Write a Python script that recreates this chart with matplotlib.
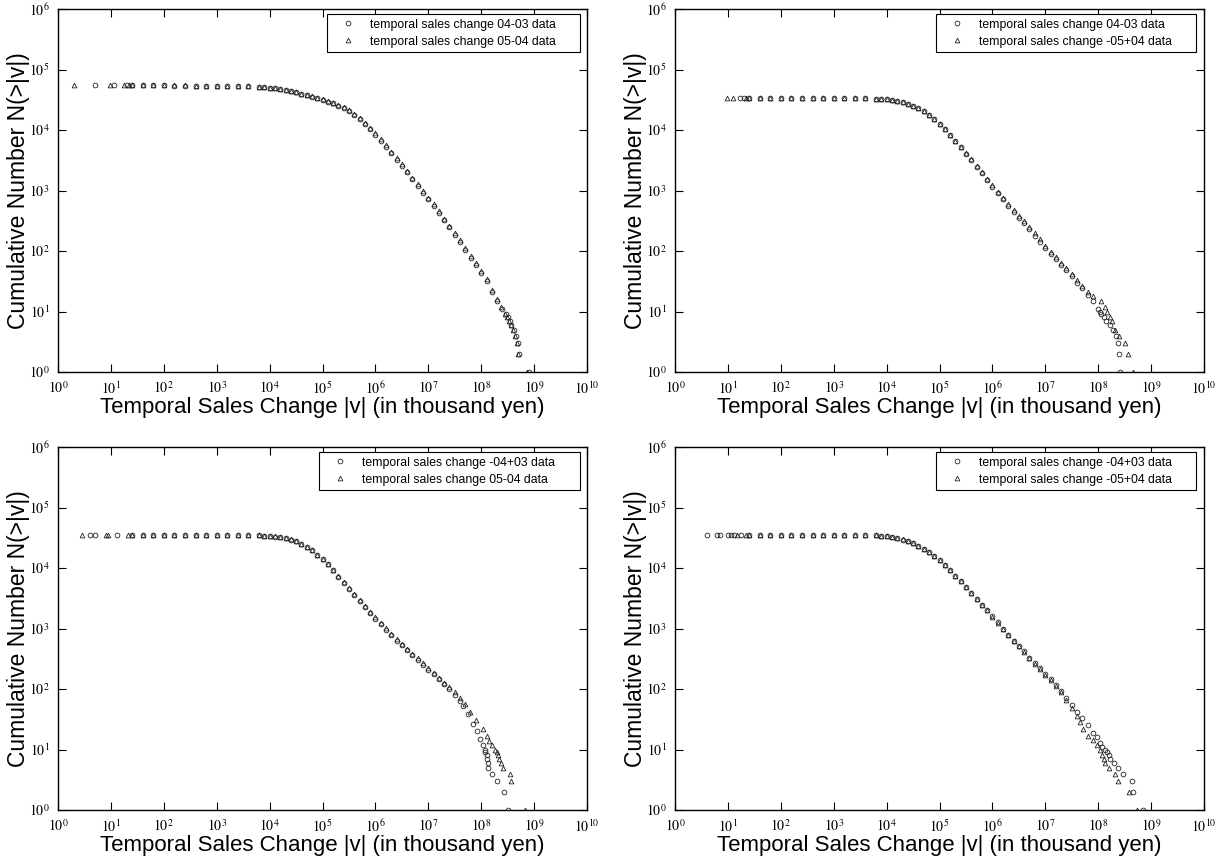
import numpy as np
import matplotlib.pyplot as plt
from matplotlib.ticker import FixedLocator, FuncFormatter, NullLocator

plt.rcParams['font.family'] = ['Liberation Sans', 'DejaVu Sans']
plt.rcParams['mathtext.fontset'] = 'stix'

# sales change |v| (thousand yen) at which the curves were read
core_x = [25, 40, 63, 100, 158, 251, 398, 631, 1000, 1585, 2512, 3981, 6310, 7943,
          1.0e4, 1.26e4, 1.58e4, 2.0e4, 2.51e4, 3.16e4, 3.98e4, 5.01e4, 6.31e4, 7.94e4,
          1.0e5, 1.26e5, 1.58e5, 2.0e5, 2.51e5, 3.16e5, 3.98e5, 5.01e5, 6.31e5, 7.94e5,
          1.0e6, 1.26e6, 1.58e6, 2.0e6, 2.51e6, 3.16e6, 3.98e6, 5.01e6, 6.31e6, 7.94e6,
          1.0e7, 1.26e7, 1.58e7, 2.0e7, 2.51e7, 3.16e7]

# --- panel (a): 04-03 vs 05-04
a_circ_left_x = [4.9, 11.5, 20]
a_circ_left_n = [54600, 54600, 54600]
a_circ_core = [54500, 54500, 54400, 54400, 54300, 54300, 54200, 54100, 54000, 53800, 53500, 53000,
               52000, 51200,
               50100, 49500, 47900, 46200, 44200, 41700, 39800, 37600, 35500, 33500,
               31600, 29500, 27500, 25100, 22900, 20400, 17800, 15100, 12600, 10200,
               8300, 6600, 5250, 4170, 3240, 2570, 2000, 1550, 1200, 910,
               720, 560, 430, 320, 245, 186]
a_circ_tail_x = [4.0e7, 5.0e7, 6.3e7, 7.9e7, 1.0e8, 1.26e8, 1.6e8, 2.0e8, 2.5e8, 2.9e8,
                 3.2e8, 3.5e8, 3.7e8, 4.1e8, 4.5e8, 4.9e8, 5.2e8, 7.9e8]
a_circ_tail_n = [141, 105, 78, 59, 44, 32, 21, 15, 11, 9, 8, 7, 6, 5, 4, 3, 2, 1]
a_tri_left_x = [2.0, 9.6, 17.5, 22]
a_tri_left_n = [54700, 54700, 54700, 54700]
a_tri_core = [54600, 54600, 54500, 54500, 54400, 54400, 54300, 54200, 54100, 53900, 53600, 53100,
              52100, 51300,
              50200, 49600, 48000, 46400, 44400, 42000, 40100, 38000, 36000, 34000,
              32200, 30100, 28100, 25800, 23600, 21200, 18600, 15800, 13200, 10800,
              8800, 7000, 5550, 4400, 3450, 2720, 2120, 1640, 1270, 970,
              760, 590, 455, 340, 260, 197]
a_tri_tail_x = [4.0e7, 5.0e7, 6.3e7, 7.9e7, 1.0e8, 1.26e8, 1.6e8, 2.0e8, 2.4e8, 2.8e8,
                3.1e8, 3.4e8, 3.6e8, 4.0e8, 4.4e8, 4.7e8, 5.0e8, 7.4e8]
a_tri_tail_n = [150, 112, 84, 63, 47, 34, 23, 16, 12, 9, 8, 7, 6, 5, 4, 3, 2, 1]

# --- panel (b): 04-03 vs -05+04
b_circ_left_x = [17, 20]
b_circ_left_n = [34000, 34000]
b_circ_core = [34000, 34000, 34000, 33900, 33900, 33900, 33800, 33800, 33700, 33600, 33400, 33200,
               32900, 32600,
               32400, 31600, 30200, 28800, 26900, 25100, 22900, 20400, 17800, 15100,
               12600, 10200, 8200, 6500, 5150, 4050, 3180, 2450, 1920, 1480,
               1150, 900, 710, 560, 445, 355, 285, 228, 180, 142,
               113, 90, 73, 59, 48, 38]
b_circ_tail_x = [3.98e7, 5.0e7, 6.3e7, 7.9e7, 1.0e8, 1.07e8, 1.15e8, 1.26e8, 1.41e8, 1.66e8,
                 1.9e8, 2.2e8, 2.35e8, 2.45e8, 2.57e8]
b_circ_tail_n = [30, 24, 19, 15, 11, 10, 9, 8, 7, 6, 5, 4, 3, 2, 1]
b_tri_left_x = [9.5, 12.5, 22]
b_tri_left_n = [34100, 34100, 34100]
b_tri_core = [34100, 34100, 34000, 34000, 34000, 33900, 33900, 33800, 33700, 33600, 33400, 33300,
              33000, 32700,
              32500, 31700, 30300, 28900, 27000, 25200, 23000, 20500, 17900, 15200,
              12700, 10300, 8300, 6600, 5250, 4150, 3270, 2540, 2000, 1560,
              1220, 960, 765, 605, 480, 385, 310, 248, 196, 155,
              123, 98, 80, 64, 52, 41]
b_tri_tail_x = [3.98e7, 5.0e7, 6.3e7, 7.9e7, 1.12e8, 1.35e8, 1.48e8, 1.66e8, 1.86e8, 2.09e8,
                2.5e8, 3.24e8, 3.63e8, 4.57e8]
b_tri_tail_n = [33, 26, 21, 18, 15, 12, 10, 8, 7, 5, 4, 3, 2, 1]

# --- panel (c): -04+03 vs 05-04
c_circ_left_x = [4.0, 5.0, 13]
c_circ_left_n = [35400, 35400, 35400]
c_circ_core = [35400, 35400, 35400, 35300, 35300, 35300, 35200, 35200, 35100, 35100, 35000, 35000,
               34700, 34300,
               33900, 33100, 32400, 30900, 29500, 27500, 25100, 22400, 19500, 16600,
               14100, 11500, 9100, 7200, 5750, 4570, 3630, 2880, 2290, 1820,
               1450, 1170, 955, 776, 631, 525, 437, 363, 302, 251,
               209, 174, 145, 120, 100, 81]
c_circ_tail_x = [3.98e7, 4.57e7, 5.6e7, 7.1e7, 8.3e7, 9.5e7, 1.07e8, 1.17e8, 1.2e8, 1.26e8,
                 1.29e8, 1.32e8, 1.35e8, 1.58e8, 2.0e8, 2.7e8, 3.24e8]
c_circ_tail_n = [64, 52, 38, 26, 20, 15, 12, 10, 9, 8, 7, 6, 5, 4, 3, 2, 1]
c_tri_left_x = [2.8, 8.0, 9.0, 21]
c_tri_left_n = [35500, 35500, 35500, 35500]
c_tri_core = [35500, 35500, 35400, 35400, 35400, 35300, 35300, 35200, 35200, 35100, 35100, 35000,
              34800, 34400,
              34000, 33200, 32500, 31000, 29600, 27600, 25200, 22500, 19600, 16700,
              14200, 11600, 9200, 7300, 5850, 4680, 3740, 2980, 2380, 1900,
              1520, 1230, 1005, 818, 666, 555, 462, 384, 320, 266,
              222, 185, 154, 128, 107, 88]
c_tri_tail_x = [3.98e7, 5.0e7, 6.2e7, 7.9e7, 1.07e8, 1.26e8, 1.41e8, 1.58e8, 1.82e8, 2.0e8,
                2.1e8, 2.15e8, 2.35e8, 2.57e8, 3.47e8, 3.63e8, 6.8e8]
c_tri_tail_n = [72, 56, 42, 31, 22, 17, 14, 12, 10, 9, 8, 7, 6, 5, 4, 3, 1]

# --- panel (d): -04+03 vs -05+04
d_circ_left_x = [4.0, 6.3, 7.0, 10, 11.5, 13, 18]
d_circ_left_n = [35400, 35400, 35400, 35400, 35400, 35400, 35400]
d_circ_core = [35400, 35400, 35400, 35300, 35300, 35300, 35200, 35200, 35100, 35100, 35000, 35000,
               34700, 34200,
               33500, 32400, 30900, 29500, 27500, 25700, 23400, 20900, 18200, 15800,
               13500, 11200, 9100, 7400, 6000, 4800, 3900, 3100, 2450, 2000,
               1580, 1260, 1000, 795, 630, 513, 417, 331, 269, 219,
               178, 145, 115, 93, 72, 55]
d_circ_tail_x = [3.98e7, 5.0e7, 6.3e7, 7.9e7, 9.3e7, 1.07e8, 1.17e8, 1.32e8, 1.48e8, 1.58e8,
                 1.66e8, 2.0e8, 2.4e8, 2.95e8, 4.37e8, 4.57e8, 7.1e8]
d_circ_tail_n = [42, 33, 25, 19, 16, 13, 11, 10, 9, 8, 7, 6, 5, 4, 3, 2, 1]
d_tri_left_x = [15, 22]
d_tri_left_n = [35500, 35500]
d_tri_core = [35500, 35500, 35400, 35400, 35400, 35300, 35300, 35200, 35200, 35100, 35100, 35000,
              34800, 34300,
              33600, 32500, 31000, 29600, 27600, 25800, 23500, 21000, 18300, 15900,
              13600, 11300, 9200, 7450, 6050, 4850, 3920, 3100, 2450, 1990,
              1570, 1250, 990, 785, 620, 505, 410, 325, 262, 212,
              172, 139, 110, 88, 67, 48]
d_tri_tail_x = [3.98e7, 4.47e7, 5.1e7, 6.3e7, 7.9e7, 9.3e7, 1.07e8, 1.17e8, 1.26e8, 1.35e8,
                1.58e8, 2.1e8, 2.35e8, 3.8e8, 5.4e8]
d_tri_tail_n = [36, 29, 22, 17, 14.5, 12, 10, 8, 7, 6, 5, 4, 3, 2, 1]

labels = [
    ('temporal sales change 04-03 data', 'temporal sales change 05-04 data'),
    ('temporal sales change 04-03 data', 'temporal sales change -05+04 data'),
    ('temporal sales change -04+03 data', 'temporal sales change 05-04 data'),
    ('temporal sales change -04+03 data', 'temporal sales change -05+04 data'),
]

panels = [
    (a_circ_left_x + core_x + a_circ_tail_x, a_circ_left_n + a_circ_core + a_circ_tail_n,
     a_tri_left_x + core_x + a_tri_tail_x, a_tri_left_n + a_tri_core + a_tri_tail_n),
    (b_circ_left_x + core_x + b_circ_tail_x, b_circ_left_n + b_circ_core + b_circ_tail_n,
     b_tri_left_x + core_x + b_tri_tail_x, b_tri_left_n + b_tri_core + b_tri_tail_n),
    (c_circ_left_x + core_x + c_circ_tail_x, c_circ_left_n + c_circ_core + c_circ_tail_n,
     c_tri_left_x + core_x + c_tri_tail_x, c_tri_left_n + c_tri_core + c_tri_tail_n),
    (d_circ_left_x + core_x + d_circ_tail_x, d_circ_left_n + d_circ_core + d_circ_tail_n,
     d_tri_left_x + core_x + d_tri_tail_x, d_tri_left_n + d_tri_core + d_tri_tail_n),
]

W, H = 1227, 856
fig = plt.figure(figsize=(W / 100, H / 100), dpi=100)

# axes boxes in pixels: left, top
boxes = [(58, 9), (675, 9), (58, 447), (675, 447)]
aw, ah = 529, 363
# legend frame: left edge and width as axes fractions
leg_boxes = [(0.5085, 0.4783), (0.4934, 0.4915), (0.4934, 0.4934), (0.4934, 0.4915)]


def pow_fmt(v, pos):
    return r'$10^{%d}$' % int(round(np.log10(v)))


for (cx, cn, tx, tn), (l, t), lab, (lx, lw) in zip(panels, boxes, labels, leg_boxes):
    ax = fig.add_axes([l / W, 1 - (t + ah) / H, aw / W, ah / H])
    ax.plot(cx, cn, 'o', ls='none', mfc='none', mec='#222222', ms=3.4, mew=0.6, label=lab[0])
    ax.plot(tx, tn, '^', ls='none', mfc='none', mec='#222222', ms=3.4, mew=0.6, label=lab[1])
    ax.set_xscale('log')
    ax.set_yscale('log')
    ax.set_xlim(1, 1e10)
    ax.set_ylim(1, 1e6)
    ax.xaxis.set_major_locator(FixedLocator([10.0 ** k for k in range(11)]))
    ax.yaxis.set_major_locator(FixedLocator([10.0 ** k for k in range(7)]))
    ax.xaxis.set_minor_locator(NullLocator())
    ax.yaxis.set_minor_locator(NullLocator())
    ax.xaxis.set_major_formatter(FuncFormatter(pow_fmt))
    ax.yaxis.set_major_formatter(FuncFormatter(pow_fmt))
    ax.tick_params(which='major', direction='in', length=6, width=0.8,
                   top=True, right=True, labelsize=10, pad=6)
    for s in ax.spines.values():
        s.set_linewidth(1.0)
    ax.set_xlabel('Temporal Sales Change |v| (in thousand yen)', fontsize=16, labelpad=0)
    ax.set_ylabel('Cumulative Number N(>|v|)', fontsize=16.5, labelpad=-0.5)
    leg = ax.legend(loc='upper right', bbox_to_anchor=(lx, 0, lw, 0.985), mode='expand',
                    fontsize=8.8, numpoints=1, handlelength=2.8, handletextpad=0.35,
                    fancybox=False, framealpha=1, borderaxespad=0, borderpad=0.35,
                    labelspacing=0.4)
    leg.get_frame().set_edgecolor('black')
    leg.get_frame().set_linewidth(0.8)

fig.savefig('out.png', dpi=100)
